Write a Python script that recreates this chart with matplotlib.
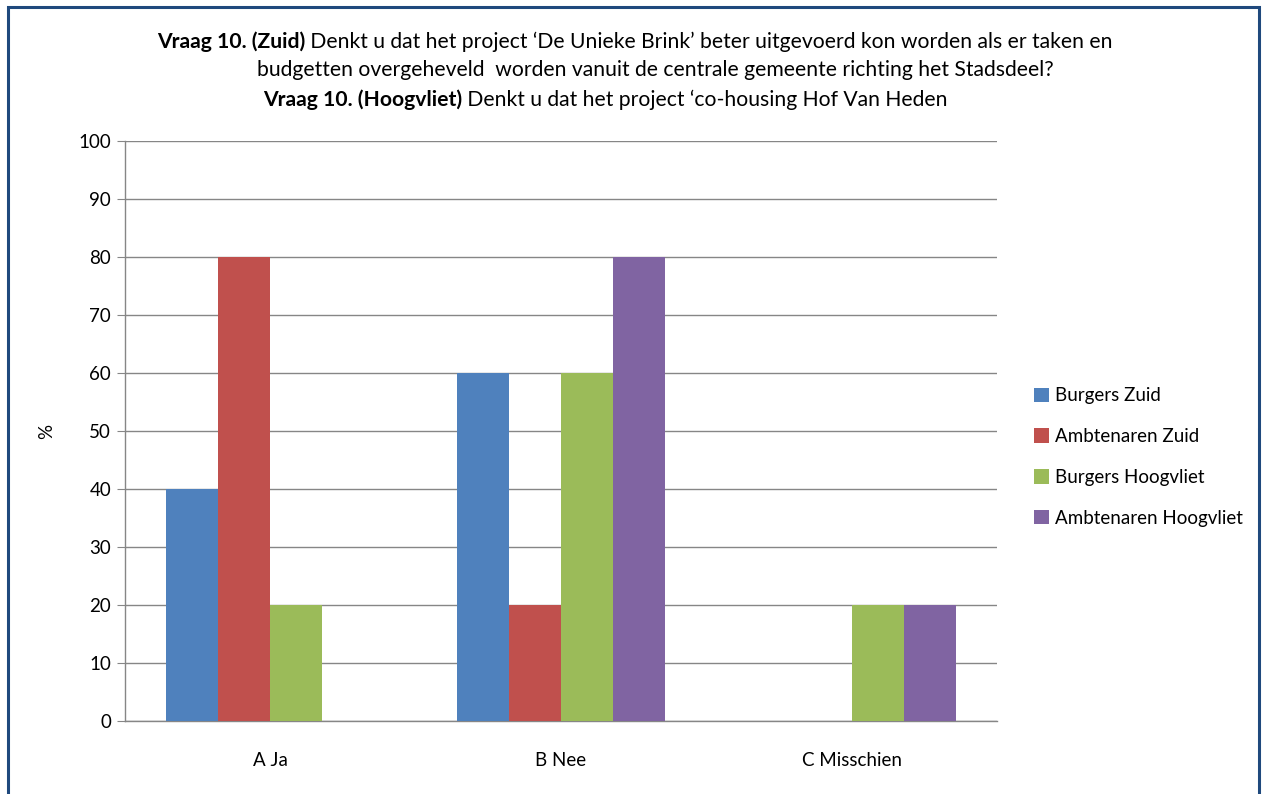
import matplotlib
matplotlib.use("Agg")
import matplotlib.pyplot as plt
import numpy as np
from matplotlib.patches import Rectangle

categories = ["A Ja", "B Nee", "C Misschien"]
series_names = ["Burgers Zuid", "Ambtenaren Zuid", "Burgers Hoogvliet", "Ambtenaren Hoogvliet"]
burgers_zuid = [40, 60, 0]
ambtenaren_zuid = [80, 20, 0]
burgers_hoogvliet = [20, 60, 20]
ambtenaren_hoogvliet = [0, 80, 20]
colors = ["#4F81BD", "#C0504D", "#9BBB59", "#8064A2"]
yticks = list(range(0, 101, 10))

title_lines = [
    [("Vraag 10. (Zuid)", "bold"),
     (" Denkt u dat het project \u2018De Unieke Brink\u2019 beter uitgevoerd kon worden als er taken en", "normal")],
    [("budgetten overgeheveld  worden vanuit de centrale gemeente richting het Stadsdeel?", "normal")],
    [("Vraag 10. (Hoogvliet)", "bold"),
     (" Denkt u dat het project \u2018co-housing Hof Van Heden", "normal")],
]

plt.rcParams["font.family"] = ["Lato", "DejaVu Sans"]
W, H = 1264, 794
fig = plt.figure(figsize=(W / 100, H / 100), dpi=100)
fig.patch.set_facecolor("white")

# outer chart frame
fig.add_artist(Rectangle((8 / W, -0.01), (1259 - 8) / W, (H - 7) / H + 0.01,
                         transform=fig.transFigure, fill=False,
                         edgecolor="#1F497D", linewidth=2.2))

ax = fig.add_axes([125 / W, 1 - 721 / H, (997 - 125) / W, (721 - 141) / H])
data = [burgers_zuid, ambtenaren_zuid, burgers_hoogvliet, ambtenaren_hoogvliet]
x = np.arange(len(categories))
bw = 0.179
for i, (vals, name, c) in enumerate(zip(data, series_names, colors)):
    ax.bar(x + (i - 1.5) * bw, vals, width=bw, color=c, label=name, zorder=3)

ax.set_xlim(-0.5, len(categories) - 0.5)
ax.set_ylim(0, 100)
ax.set_yticks(yticks)
ax.set_xticks(x)
ax.set_xticklabels(categories)
ax.yaxis.grid(True, color="#868686", linewidth=1.0, zorder=0)
for s in ["top", "right"]:
    ax.spines[s].set_visible(False)
for s in ["left", "bottom"]:
    ax.spines[s].set_color("#868686")
    ax.spines[s].set_linewidth(1.0)
ax.tick_params(axis="y", length=6, color="#868686", labelsize=13.5, pad=4, labelcolor="#000000")
ax.tick_params(axis="x", length=0, labelsize=13.5, pad=22, labelcolor="#000000")
ax.set_ylabel("%", fontsize=13.5)
ax.yaxis.set_label_coords(-70 / 872, 0.5)

leg = ax.legend(loc="center left", bbox_to_anchor=(1026 / W, 1 - 457 / H),
                bbox_transform=fig.transFigure, frameon=False, fontsize=13.5,
                handlelength=0.8, handleheight=0.8, handletextpad=0.35,
                labelspacing=1.27, borderaxespad=0)

# title with bold segments
fig.canvas.draw()
renderer = fig.canvas.get_renderer()
centers = [(635, 42), (655, 70), (605, 100)]
for segs, (cx, cy) in zip(title_lines, centers):
    texts = []
    widths = []
    for s, wgt in segs:
        t = fig.text(0, 0, s, fontsize=15.2, fontweight=wgt, va="center", ha="left")
        texts.append(t)
        widths.append(t.get_window_extent(renderer).width)
    total = sum(widths)
    xpos = cx - total / 2
    for t, w in zip(texts, widths):
        t.set_position((xpos / W, 1 - cy / H))
        xpos += w

fig.savefig("out.png", dpi=100)
